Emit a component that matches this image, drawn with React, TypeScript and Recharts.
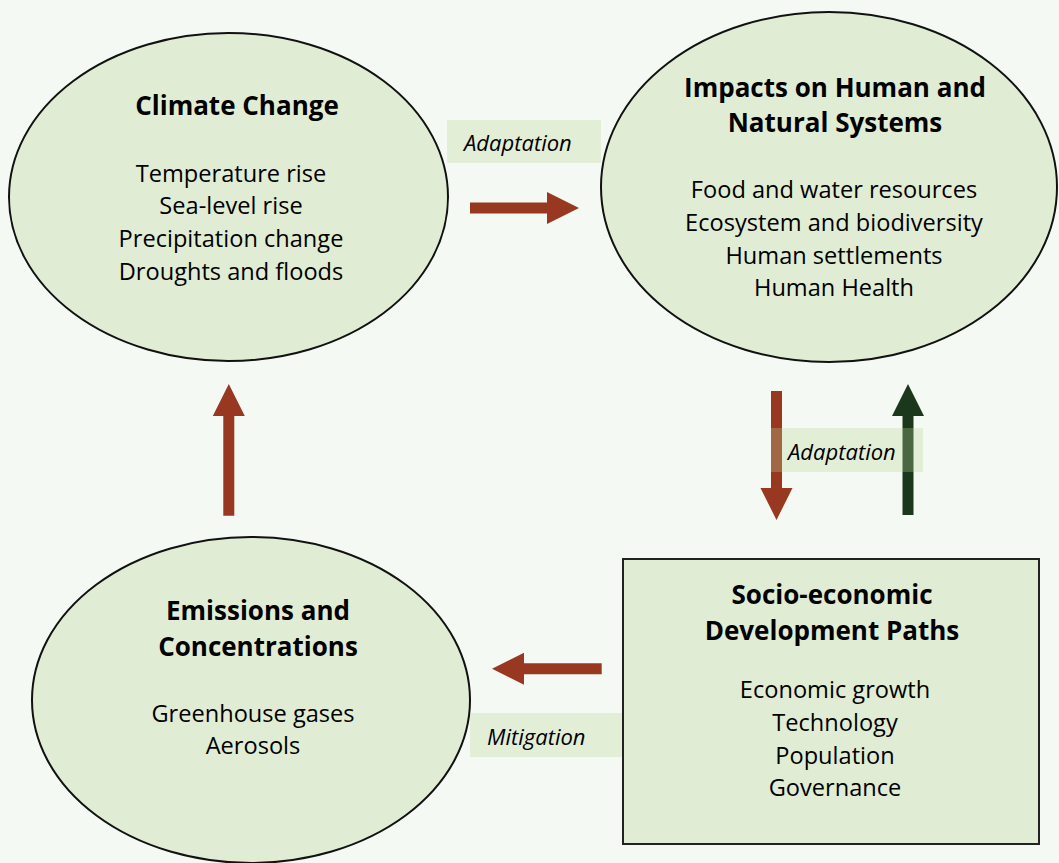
import React from "react";
import { ScatterChart, XAxis, YAxis, ReferenceArea, ReferenceLine } from "recharts";

const W = 1059;
const H = 863;

// nodes of the diagram (chart units = page pixels)
const NODE_TITLES = [
  ["Climate Change"],
  ["Impacts on Human and", "Natural Systems"],
  ["Emissions and", "Concentrations"],
  ["Socio-economic", "Development Paths"],
];
const NODE_ITEMS = [
  ["Temperature rise", "Sea-level rise", "Precipitation change", "Droughts and floods"],
  ["Food and water resources", "Ecosystem and biodiversity", "Human settlements", "Human Health"],
  ["Greenhouse gases", "Aerosols"],
  ["Economic growth", "Technology", "Population", "Governance"],
];
const NODE_KIND = ["ellipse", "ellipse", "ellipse", "box"];
const NODE_X1 = [9, 601, 32, 623];
const NODE_X2 = [448, 1057, 470, 1039];
const NODE_Y1 = [33, 12, 537, 559];
const NODE_Y2 = [361, 362, 863, 844];
const TITLE_X = [237, 835, 258, 832];
const TITLE_Y = [115, 96.7, 620, 604.3];
const ITEMS_X = [231, 834, 253, 835];
const ITEMS_Y = [181.7, 198.3, 721.7, 698.3];

// arrows: start -> end
const ARROW_X1 = [470, 776.5, 908, 228.8, 601.7];
const ARROW_Y1 = [208, 391, 515, 515.7, 668.8];
const ARROW_X2 = [579, 776.5, 908, 228.8, 492];
const ARROW_Y2 = [208, 520, 384, 384, 668.8];
const ARROW_KIND = ["cause", "cause", "response", "cause", "cause"];

// labels on the arrows
const LABELS = ["Adaptation", "Adaptation", "Mitigation"];
const LABEL_X1 = [447, 771, 470];
const LABEL_X2 = [601, 923, 622];
const LABEL_Y1 = [120, 428, 713];
const LABEL_Y2 = [163, 472, 757];

const FONT = "'Open Sans', sans-serif";
const BG = "#f5f9f3";
const NODE_FILL = "#e0edd4";
const RED = "#993820";
const GREEN = "#1c381c";

const arrowShape = (color: string) => (props: any) => {
  const { x1, y1, x2, y2 } = props;
  const dx = x2 - x1;
  const dy = y2 - y1;
  const len = Math.sqrt(dx * dx + dy * dy);
  const ux = dx / len;
  const uy = dy / len;
  const px = -uy;
  const py = ux;
  const shaft = 5.5;
  const head = 16;
  const headLen = 32;
  const bx = x2 - ux * headLen;
  const by = y2 - uy * headLen;
  const pts = [
    [x1 + px * shaft, y1 + py * shaft],
    [bx + px * shaft, by + py * shaft],
    [bx + px * head, by + py * head],
    [x2, y2],
    [bx - px * head, by - py * head],
    [bx - px * shaft, by - py * shaft],
    [x1 - px * shaft, y1 - py * shaft],
  ]
    .map((p) => p.join(","))
    .join(" ");
  return <polygon points={pts} fill={color} />;
};

const nodeShape = (i: number) => (props: any) => {
  const { x, y, width, height } = props;
  const sx = width / (NODE_X2[i] - NODE_X1[i]);
  const sy = height / (NODE_Y2[i] - NODE_Y1[i]);
  const px = (v: number) => x + (v - NODE_X1[i]) * sx;
  const py = (v: number) => y + (v - NODE_Y1[i]) * sy;
  return (
    <g>
      {NODE_KIND[i] === "ellipse" ? (
        <ellipse
          cx={x + width / 2}
          cy={y + height / 2}
          rx={width / 2}
          ry={height / 2}
          fill={NODE_FILL}
          stroke="#111"
          strokeWidth={2}
        />
      ) : (
        <rect x={x} y={y} width={width} height={height} fill={NODE_FILL} stroke="#222" strokeWidth={2} />
      )}
      {NODE_TITLES[i].map((t, k) => (
        <text
          key={"t" + k}
          x={px(TITLE_X[i])}
          y={py(TITLE_Y[i] + k * 35.5)}
          textAnchor="middle"
          fontFamily={FONT}
          fontWeight={700}
          fontSize={26}
          fill="#000"
        >
          {t}
        </text>
      ))}
      {NODE_ITEMS[i].map((t, k) => (
        <text
          key={"i" + k}
          x={px(ITEMS_X[i])}
          y={py(ITEMS_Y[i] + k * 32.6)}
          textAnchor="middle"
          fontFamily={FONT}
          fontSize={23.6}
          fill="#000"
        >
          {t}
        </text>
      ))}
    </g>
  );
};

// label boxes go through a ReferenceLine (diagonal of the box) so they are drawn over the arrows
const labelShape = (i: number) => (props: any) => {
  const { x1, y1, x2, y2 } = props;
  const x = Math.min(x1, x2);
  const y = Math.min(y1, y2);
  const width = Math.abs(x2 - x1);
  const height = Math.abs(y2 - y1);
  return (
    <g>
      <rect x={x} y={y} width={width} height={height} fill="#b8d498" fillOpacity={0.3} />
      <text
        x={x + 17}
        y={y + height / 2 + 9.5}
        fontFamily={FONT}
        fontStyle="italic"
        fontSize={22}
        fill="#000"
      >
        {LABELS[i]}
      </text>
    </g>
  );
};

export default function App() {
  return (
    <div style={{ position: "fixed", left: 0, top: 0, width: W, height: H, background: BG }}>
      <ScatterChart width={W} height={H} margin={{ top: 0, right: 0, bottom: 0, left: 0 }}>
        <XAxis type="number" dataKey="x" domain={[0, W]} hide allowDataOverflow />
        <YAxis type="number" dataKey="y" domain={[0, H]} reversed hide allowDataOverflow />
        {NODE_TITLES.map((_, i) => (
          <ReferenceArea
            key={"n" + i}
            x1={NODE_X1[i]}
            x2={NODE_X2[i]}
            y1={NODE_Y1[i]}
            y2={NODE_Y2[i]}
            ifOverflow="visible"
            shape={nodeShape(i)}
          />
        ))}
        {ARROW_X1.map((_, i) => (
          <ReferenceLine
            key={"a" + i}
            segment={[
              { x: ARROW_X1[i], y: ARROW_Y1[i] },
              { x: ARROW_X2[i], y: ARROW_Y2[i] },
            ]}
            ifOverflow="visible"
            shape={arrowShape(ARROW_KIND[i] === "cause" ? RED : GREEN)}
          />
        ))}
        {LABELS.map((_, i) => (
          <ReferenceLine
            key={"l" + i}
            segment={[
              { x: LABEL_X1[i], y: LABEL_Y1[i] },
              { x: LABEL_X2[i], y: LABEL_Y2[i] },
            ]}
            ifOverflow="visible"
            shape={labelShape(i)}
          />
        ))}
      </ScatterChart>
    </div>
  );
}
